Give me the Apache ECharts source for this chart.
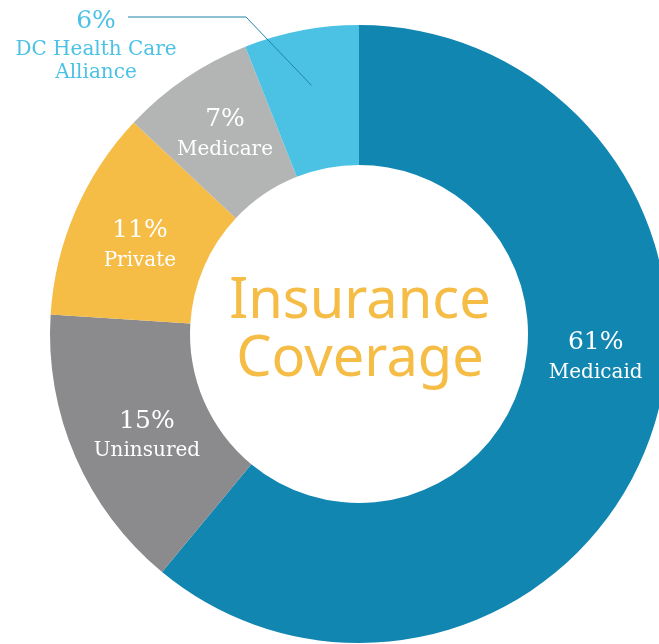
<!DOCTYPE html>
<html>
<head>
<meta charset="utf-8">
<script src="https://cdn.jsdelivr.net/npm/echarts@6/dist/echarts.min.js"></script>
<style>
  html, body { margin: 0; padding: 0; background: #fff; }
  #chart { width: 659px; height: 644px; }
</style>
</head>
<body>
<div id="chart"></div>
<script>
// coverage shares, clockwise from 12 o'clock
var categories = ['Medicaid', 'Uninsured', 'Private', 'Medicare', 'DC Health Care Alliance'];
var shares = [61, 15, 11, 7, 6];
var labelNames = ['Medicaid', 'Uninsured', 'Private', 'Medicare', 'DC Health Care\nAlliance'];
var colors = ['#1186b1', '#8b8b8d', '#f5bc46', '#b3b4b4', '#4bc2e4'];

// nudges for the labels that sit inside the ring
var nudges = [[9, -59], [10, 5], [3, 7], [2, 0]];

var cx = 359, cy = 334;

var myChart = echarts.init(document.getElementById('chart'));

var pieData = categories.map(function (c, i) {
    var item = { name: c, value: shares[i], itemStyle: { color: colors[i] } };
    if (i === 4) {
        item.label = {
            position: 'outside',
            color: '#4bc2e4',
            rich: {
                p: { fontFamily: 'DejaVu Serif', fontSize: 25, color: '#4bc2e4', lineHeight: 34 },
                n: { fontFamily: 'DejaVu Serif', fontSize: 20, color: '#4bc2e4', lineHeight: 23 }
            }
        };
    }
    return item;
});

// leader line for the small slice starts in the middle of that slice
var total = shares.reduce(function (a, b) { return a + b; }, 0);
var before = shares.slice(0, 4).reduce(function (a, b) { return a + b; }, 0);
var midAng = (before + shares[4] / 2) / total * 2 * Math.PI;
var lineStart = [cx + 253 * Math.sin(midAng), cy - 253 * Math.cos(midAng)];

var option = {
    animation: false,
    graphic: [{
        type: 'text',
        x: 360,
        y: 331,
        style: {
            text: 'Insurance\nCoverage',
            fill: '#f5bc46',
            font: '400 56px "Noto Sans"',
            lineHeight: 58,
            align: 'center',
            verticalAlign: 'middle'
        }
    }, {
        type: 'polyline',
        z: 100,
        shape: { points: [lineStart, [246, 17], [128, 17]] },
        style: { stroke: '#1f82ab', lineWidth: 1, fill: null }
    }],
    series: [{
        type: 'pie',
        center: [cx, cy],
        radius: [169, 309],
        startAngle: 90,
        clockwise: true,
        silent: true,
        label: {
            show: true,
            position: 'inside',
            fontFamily: 'DejaVu Serif',
            formatter: function (p) {
                return '{p|' + p.value + '%}\n{n|' + labelNames[p.dataIndex] + '}';
            },
            rich: {
                p: { fontFamily: 'DejaVu Serif', fontSize: 25, color: '#fff', lineHeight: 32 },
                n: { fontFamily: 'DejaVu Serif', fontSize: 20, color: '#fff', lineHeight: 28 }
            }
        },
        labelLine: { show: false },
        labelLayout: function (params) {
            var i = params.dataIndex;
            if (i === 4) {
                return { x: 96, y: 44, align: 'center', verticalAlign: 'middle' };
            }
            return { dx: nudges[i][0], dy: nudges[i][1] };
        },
        data: pieData
    }]
};

myChart.setOption(option);
</script>
</body>
</html>
